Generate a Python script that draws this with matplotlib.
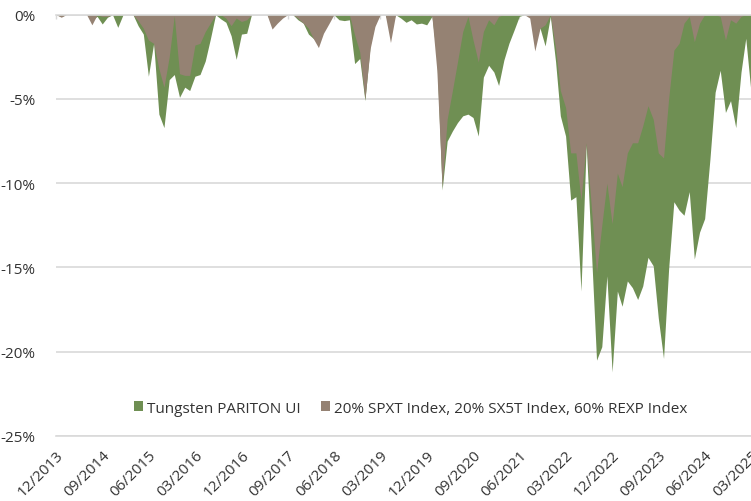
"""Drawdown chart: Tungsten PARITON UI vs. 20/20/60 benchmark, monthly."""

import matplotlib

matplotlib.use("Agg")
import matplotlib.pyplot as plt
import numpy as np
import pandas as pd

# monthly drawdowns in %, 12/2013 .. 03/2025
fund_dd = [
    0, -0.1, 0, 0, 0, 0, 0, -0.3, -0.1, -0.55,
    -0.15, 0, -0.75, 0, 0, 0, -0.65, -1.15, -3.65, -1.7,
    -5.9, -6.7, -3.85, -3.55, -4.9, -4.3, -4.5, -3.65, -3.55, -2.75,
    -1.45, 0, -0.25, -0.45, -1.25, -2.65, -1.15, -1.1, 0, 0,
    0, 0, -0.5, -0.3, -0.1, 0, 0, -0.3, -0.5, -1.15,
    -1.4, -1.6, -0.8, -0.3, 0, -0.3, -0.35, -0.3, -2.9, -2.6,
    -5.1, -1.8, -0.5, 0, 0, -0.8, 0, -0.2, -0.45, -0.3,
    -0.55, -0.5, -0.6, -0.1, -2.5, -10.4, -7.5, -6.9, -6.4, -6.0,
    -5.9, -6.1, -7.2, -3.7, -3.0, -3.4, -4.2, -2.7, -1.7, -0.9,
    -0.1, 0, 0, -0.7, -0.8, -1.85, -0.1, -2.8, -6.0, -7.2,
    -11.0, -10.8, -16.4, -7.7, -14.1, -20.5, -19.7, -15.5, -21.2, -16.4,
    -17.3, -15.8, -16.2, -16.9, -16.1, -14.4, -14.9, -18.0, -20.4, -15.1,
    -11.1, -11.6, -11.9, -10.5, -14.5, -12.9, -12.1, -8.6, -4.6, -3.3,
    -5.8, -5.1, -6.7, -3.4, -1.4, -4.6,
]
bench_dd = [
    0, -0.15, 0, 0, 0, 0, 0, -0.6, 0, -0.1,
    -0.1, 0, 0, 0, 0, 0, -0.35, -0.8, -1.5, -1.7,
    -3.2, -4.3, -2.5, -0.05, -3.5, -3.6, -3.6, -1.8, -1.7, -1.0,
    -0.5, 0, 0, -0.2, -0.65, -0.2, -0.4, -0.3, 0, 0,
    0, 0, -0.85, -0.5, -0.2, 0, 0, -0.2, -0.5, -0.8,
    -1.4, -1.95, -1.1, -0.55, 0, 0, -0.05, 0, -1.2, -2.2,
    -5.0, -2.0, -0.7, 0, 0, -1.65, 0, 0, 0, 0,
    0, -0.05, 0, -0.1, -3.3, -10.2, -6.2, -4.5, -2.8, -1.0,
    -0.1, -1.5, -2.8, -1.0, -0.3, -0.6, -0.1, 0, 0, 0,
    0, 0, -0.2, -2.15, -0.8, -0.6, 0, -2.0, -4.5, -5.5,
    -8.2, -8.2, -11.0, -7.6, -11.5, -15.3, -12.5, -10.0, -12.4, -9.4,
    -10.2, -8.2, -7.6, -7.6, -6.6, -5.4, -6.2, -8.2, -8.5, -5.0,
    -2.1, -1.7, -0.5, -0.1, -1.6, -0.5, 0, 0, 0, -0.1,
    -1.5, -0.3, -0.5, -0.1, 0, 0,
]
dates = pd.date_range("2013-12-31", periods=len(fund_dd), freq="ME")
tick_dates = dates[::9]
y_ticks = [0, -5, -10, -15, -20, -25]

GREEN = "#6f8f53"
BROWN = "#958273"
GRID = "#d9d9d9"
TEXT = "#333333"

plt.rcParams["font.family"] = ["Open Sans", "DejaVu Sans"]

fig = plt.figure(figsize=(7.51, 5.02), dpi=100)
ax = fig.add_axes([0.0746, 0.1295, 0.9254, 0.8392])

ax.fill_between(dates, fund_dd, 0, color=GREEN, linewidth=0,
                label="Tungsten PARITON UI")
ax.fill_between(dates, bench_dd, 0, color=BROWN, linewidth=0,
                label="20% SPXT Index, 20% SX5T Index, 60% REXP Index")

ax.set_xlim(dates[0], dates[-1])
ax.set_ylim(-25, 0)
ax.set_yticks(y_ticks)
ax.set_yticklabels([f"{v}%" for v in y_ticks])
ax.set_xticks(tick_dates)
ax.set_xticklabels([d.strftime("%m/%Y") for d in tick_dates],
                   rotation=45, ha="right", rotation_mode="anchor")

ax.grid(axis="y", color=GRID, linewidth=1.2)
ax.set_axisbelow(True)
for side in ("left", "right"):
    ax.spines[side].set_visible(False)
for side in ("top", "bottom"):
    ax.spines[side].set_color(GRID)
    ax.spines[side].set_linewidth(1.2)

ax.tick_params(axis="y", length=0, pad=15, labelsize=11, labelcolor=TEXT)
ax.tick_params(axis="x", bottom=False, top=True, direction="in", length=3,
               color=GRID, width=1, pad=8, labelsize=11, labelcolor=TEXT)

ax.legend(loc="center", bbox_to_anchor=(0.51, 0.066), ncol=2, frameon=False,
          fontsize=11, labelcolor=TEXT, handlelength=0.6, handleheight=0.6,
          handletextpad=0.25, columnspacing=1.3)

fig.savefig("out.png", dpi=100)
